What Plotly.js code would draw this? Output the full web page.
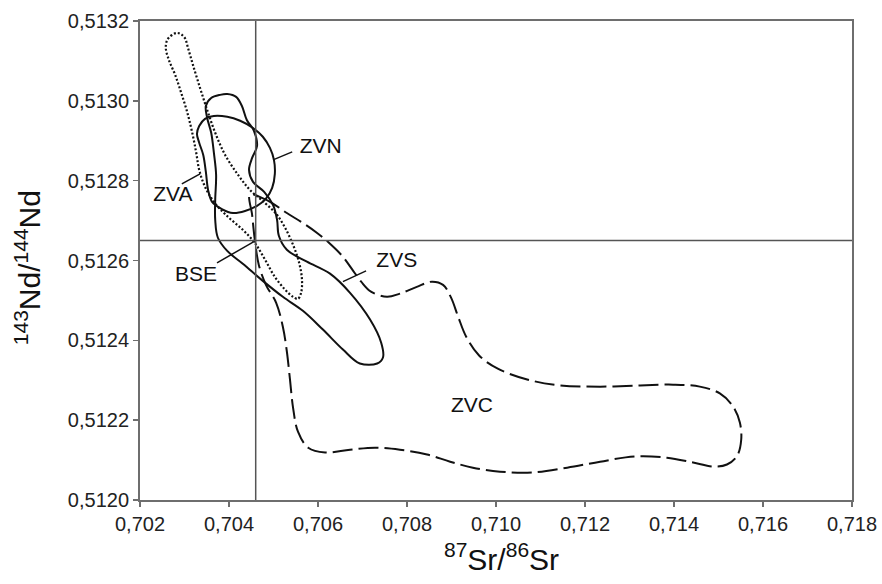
<!DOCTYPE html>
<html>
<head>
<meta charset="utf-8">
<script src="https://cdn.plot.ly/plotly-3.0.1.min.js"></script>
<style>html,body{margin:0;padding:0;background:#fff;}#chart{width:882px;height:584px;}</style>
</head>
<body>
<div id="chart"></div>
<script>
// ---- Data (87Sr/86Sr vs 143Nd/144Nd) ----
const xTickVals = [0.702,0.704,0.706,0.708,0.710,0.712,0.714,0.716,0.718];
const yTickVals = [0.5120,0.5122,0.5124,0.5126,0.5128,0.5130,0.5132];

// Bulk Silicate Earth reference
const bseSr = 0.7046;
const bseNd = 0.51265;

// ZVA field (dotted)
const zvaSr = [0.70283,0.70272,0.70261,0.70258,0.70265,0.70279,0.70292,0.70306,0.70317,0.70326,0.70333,0.70346,0.70366,0.70398,0.70431,0.70458,0.70481,0.70503,0.70526,0.70544,0.70555,0.70562,0.70564,0.70557,0.70544,0.70526,0.70506,0.70481,0.70447,0.70420,0.70391,0.70369,0.70351,0.70335,0.70319,0.70308,0.70301,0.70292,0.70283];
const zvaNd = [0.513170,0.513165,0.513152,0.513132,0.513102,0.513065,0.513022,0.512972,0.512922,0.512872,0.512827,0.512785,0.512747,0.512709,0.512677,0.512644,0.512602,0.512559,0.512527,0.512509,0.512504,0.512519,0.512552,0.512597,0.512639,0.512682,0.512717,0.512744,0.512777,0.512815,0.512865,0.512920,0.512977,0.513032,0.513090,0.513132,0.513157,0.513167,0.513170];

// ZVS field (solid)
const zvsSr = [0.70380,0.70396,0.70416,0.70429,0.70440,0.70456,0.70463,0.70452,0.70445,0.70454,0.70479,0.70499,0.70508,0.70512,0.70530,0.70575,0.70627,0.70672,0.70717,0.70742,0.70746,0.70733,0.70694,0.70656,0.70611,0.70566,0.70521,0.70476,0.70431,0.70396,0.70375,0.70369,0.70369,0.70371,0.70366,0.70360,0.70351,0.70348,0.70360,0.70380];
const zvsNd = [0.513015,0.513017,0.513010,0.512987,0.512952,0.512925,0.512887,0.512857,0.512827,0.512797,0.512772,0.512739,0.512702,0.512662,0.512627,0.512597,0.512567,0.512519,0.512452,0.512394,0.512357,0.512342,0.512342,0.512377,0.512427,0.512474,0.512509,0.512549,0.512592,0.512624,0.512657,0.512702,0.512752,0.512815,0.512870,0.512920,0.512957,0.512987,0.513007,0.513015];

// ZVN field (solid)
const zvnSr = [0.70328,0.70333,0.70346,0.70366,0.70396,0.70425,0.70454,0.70476,0.70492,0.70501,0.70503,0.70497,0.70483,0.70463,0.70436,0.70409,0.70384,0.70362,0.70353,0.70348,0.70342,0.70333,0.70328];
const zvnNd = [0.512917,0.512937,0.512955,0.512962,0.512960,0.512950,0.512932,0.512910,0.512882,0.512852,0.512817,0.512782,0.512755,0.512737,0.512724,0.512719,0.512729,0.512747,0.512777,0.512822,0.512865,0.512895,0.512917];

// ZVC field (dashed)
const zvcSr = [0.70447,0.70474,0.70497,0.70530,0.70566,0.70598,0.70627,0.70654,0.70676,0.70697,0.70719,0.70755,0.70784,0.70822,0.70856,0.70881,0.70899,0.70915,0.70933,0.70962,0.71004,0.71070,0.71144,0.71234,0.71324,0.71398,0.71458,0.71503,0.71533,0.71548,0.71551,0.71542,0.71519,0.71488,0.71443,0.71384,0.71312,0.71234,0.71160,0.71083,0.71009,0.70948,0.70897,0.70845,0.70784,0.70728,0.70672,0.70616,0.70578,0.70555,0.70544,0.70537,0.70530,0.70521,0.70506,0.70483,0.70467,0.70458,0.70452,0.70447];
const zvcNd = [0.512765,0.512757,0.512744,0.512719,0.512694,0.512669,0.512642,0.512612,0.512579,0.512547,0.512522,0.512509,0.512517,0.512534,0.512547,0.512539,0.512507,0.512459,0.512409,0.512362,0.512329,0.512302,0.512287,0.512284,0.512287,0.512289,0.512284,0.512267,0.512234,0.512194,0.512151,0.512111,0.512089,0.512084,0.512094,0.512106,0.512109,0.512096,0.512081,0.512069,0.512071,0.512081,0.512096,0.512114,0.512126,0.512131,0.512126,0.512119,0.512131,0.512171,0.512231,0.512302,0.512372,0.512434,0.512494,0.512539,0.512589,0.512652,0.512714,0.512765];

// Field labels
const labelText = ["ZVN","ZVA","BSE","ZVS","ZVC"];
const labelSr   = [0.70606,0.70274,0.70326,0.70777,0.70946];
const labelNd   = [0.512882,0.512762,0.512562,0.512597,0.512234];

// Leader lines (pairs separated by null)
const leaderSr = [0.70499,0.70542,null,0.70294,0.70335,null,0.70373,0.7046,null,0.70656,0.70708];
const leaderNd = [0.512852,0.512872,null,0.512792,0.512817,null,0.512594,0.51265,null,0.512547,0.512574];

// ---- Plot ----
const field = (x, y, dash, w) => ({
  x: x, y: y, type: 'scatter', mode: 'lines',
  line: {color: '#111', width: w || 2, shape: 'spline', smoothing: 1, dash: dash},
  hoverinfo: 'skip', showlegend: false
});

const traces = [
  field(zvaSr, zvaNd, '2px,2px', 2.2),
  field(zvsSr, zvsNd, 'solid'),
  field(zvnSr, zvnNd, 'solid'),
  field(zvcSr, zvcNd, '20px,6px'),
  {x: leaderSr, y: leaderNd, type: 'scatter', mode: 'lines',
   line: {color: '#111', width: 1.5}, hoverinfo: 'skip', showlegend: false, connectgaps: false},
  {x: labelSr, y: labelNd, type: 'scatter', mode: 'text', text: labelText,
   textposition: 'middle center', textfont: {family: 'Liberation Sans, Arial, sans-serif', size: 21, color: '#111'},
   hoverinfo: 'skip', showlegend: false}
];

const axisCommon = {
  showgrid: false, zeroline: false, showline: true, mirror: true,
  linecolor: '#6e6e6e', linewidth: 2,
  ticks: 'outside', ticklen: 5, tickwidth: 1.5, tickcolor: '#6e6e6e',
  tickfont: {family: 'Liberation Sans, Arial, sans-serif', size: 20, color: '#222'}
};

const layout = {
  width: 882, height: 584,
  margin: {l: 140, r: 30, t: 21, b: 84},
  paper_bgcolor: '#fff', plot_bgcolor: '#fff',
  separators: ',.',
  xaxis: Object.assign({}, axisCommon, {
    range: [xTickVals[0], xTickVals[xTickVals.length-1]],
    tickvals: xTickVals, tickformat: '.3f'
  }),
  yaxis: Object.assign({}, axisCommon, {
    range: [yTickVals[0], yTickVals[yTickVals.length-1]],
    tickvals: yTickVals, tickformat: '.4f'
  }),
  shapes: [
    {type: 'line', xref: 'x', yref: 'paper', x0: bseSr, x1: bseSr, y0: 0, y1: 1, line: {color: '#555', width: 1.5}},
    {type: 'line', xref: 'paper', yref: 'y', x0: 0, x1: 1, y0: bseNd, y1: bseNd, line: {color: '#555', width: 1.5}}
  ],
  annotations: [
    {text: '<sup>87</sup>Sr/<sup>86</sup>Sr', xref: 'paper', yref: 'paper', x: 0.508, y: -0.118,
     xanchor: 'center', yanchor: 'middle', showarrow: false,
     font: {family: 'Liberation Sans, Arial, sans-serif', size: 30, color: '#111'}},
    {text: '<sup>143</sup>Nd/<sup>144</sup>Nd', xref: 'paper', yref: 'paper', x: -0.158, y: 0.485,
     xanchor: 'center', yanchor: 'middle', showarrow: false, textangle: -90,
     font: {family: 'Liberation Sans, Arial, sans-serif', size: 30, color: '#111'}}
  ]
};

Plotly.newPlot('chart', traces, layout, {displayModeBar: false, staticPlot: true});
</script>
</body>
</html>
